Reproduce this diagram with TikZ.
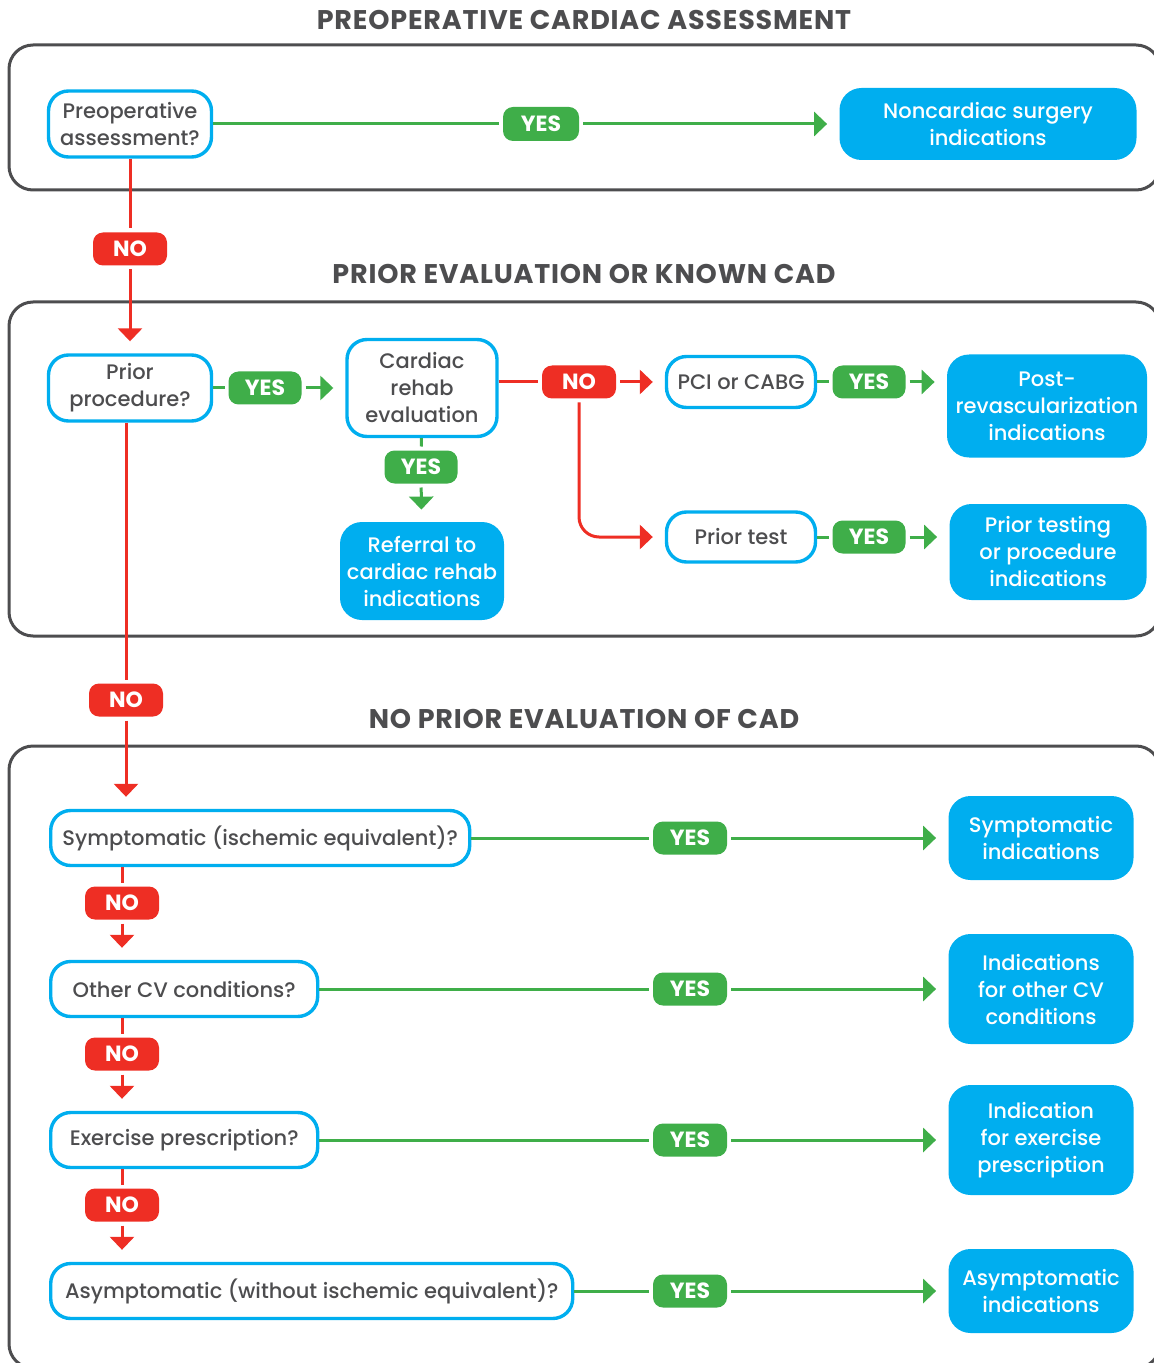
\documentclass[tikz,border=0pt]{standalone}
\usepackage{fontspec}
\setmainfont{Poppins}
\newfontfamily\medfont{Poppins Medium}
\newfontfamily\headfont[LetterSpace=3]{Poppins Bold}
\usetikzlibrary{arrows.meta}
\definecolor{cadblue}{HTML}{00AEEF}
\definecolor{cadgreen}{HTML}{3FAE49}
\definecolor{cadred}{HTML}{EE2E24}
\definecolor{cadgray}{HTML}{4D4D4F}
\tikzset{
  frame/.style={draw=cadgray,line width=1.5pt,rounded corners=12pt},
  head/.style={text=cadgray,font=\fontsize{13.5}{16}\headfont},
  sz/.style 2 args={minimum width=#1*0.5pt,minimum height=#2*0.5pt},
  qbox/.style={draw=cadblue,line width=1.7pt,rounded corners=10pt,fill=white,text=cadgray,
    align=center,inner sep=2pt,font=\fontsize{10.5}{13.5}\medfont},
  abox/.style={fill=cadblue,rounded corners=11pt,text=white,align=center,inner sep=2pt,
    font=\fontsize{10.5}{13.5}\medfont},
  lab/.style={rounded corners=5pt,text=white,inner sep=1pt,outer sep=2pt,
    font=\fontsize{11}{13}\selectfont\bfseries},
  yeslab/.style={lab,fill=cadgreen,sz={76}{34}},
  nolab/.style={lab,fill=cadred,sz={74}{33}},
  gline/.style={draw=cadgreen,line width=1.5pt},
  rline/.style={draw=cadred,line width=1.5pt},
  arr/.style={->,shorten >=6pt}
}
\begin{document}
\begin{tikzpicture}[x=0.5pt,y=-0.5pt,>={Triangle[width=12pt,length=6.5pt]}]
	\useasboundingbox (0,0) rectangle (1154,1363);
	% section frames and headings
	\draw[frame] (9,45) rectangle (1160,190);
	\draw[frame] (9,302) rectangle (1160,636);
	\draw[frame] (9,746) rectangle (1160,1368);
	\node[head] (t1) at (584,20) {PREOPERATIVE CARDIAC ASSESSMENT};
	\node[head] (t2) at (584,274) {PRIOR EVALUATION OR KNOWN CAD};
	\node[head] (t3) at (584,719) {NO PRIOR EVALUATION OF CAD};

	% preoperative
	\node[qbox,sz={163}{66}] (preop) at (130,124) {Preoperative\\assessment?};
	\node[yeslab] (yes1) at (541,124) {YES};
	\node[abox,sz={297}{72}] (noncard) at (988,124) {Noncardiac surgery\\indications};
	\node[nolab] (no1) at (130,249) {NO};
	\draw[gline] (preop) -- (yes1);
	\draw[gline,arr] (yes1) -- (noncard);
	\draw[rline] (preop) -- (no1);

	% prior evaluation
	\node[qbox,sz={163}{66}] (prior) at (130,388) {Prior\\procedure?};
	\node[yeslab,sz={73}{33}] (yes2) at (265,388) {YES};
	\node[qbox,sz={150}{97}] (crehab) at (422,388) {Cardiac\\rehab\\evaluation};
	\node[nolab] (no3) at (579,382) {NO};
	\node[qbox,sz={149}{51}] (pci) at (741,382) {PCI or CABG};
	\node[yeslab,sz={73}{33}] (yes3) at (869,382) {YES};
	\node[abox,sz={200}{103}] (postrev) at (1047,406) {Post-\\revascularization\\indications};
	\node[yeslab,sz={73}{33}] (yes4) at (421,467) {YES};
	\node[abox,sz={164}{98}] (referral) at (422,571) {Referral to\\cardiac rehab\\indications};
	\node[qbox,sz={149}{50}] (ptest) at (741,537) {Prior test};
	\node[yeslab,sz={73}{33}] (yes5) at (869,537) {YES};
	\node[abox,sz={197}{96}] (ptesting) at (1048,552) {Prior testing\\or procedure\\indications};
	\node[nolab] (no2) at (126,700) {NO};
	\draw[rline,arr] (no1) -- (prior);
	\draw[gline] (prior) -- (yes2);
	\draw[gline,arr] (yes2) -- (crehab);
	\draw[rline] (no3 -| crehab.east) -- (no3);
	\draw[rline,arr] (no3) -- (pci);
	\draw[gline] (pci) -- (yes3);
	\draw[gline,arr] (yes3) -- (yes3 -| postrev.west);
	\draw[gline] (crehab) -- (yes4);
	\draw[gline,arr] (yes4) -- (referral);
	\draw[rline,arr,rounded corners=10pt] (no3) |- (ptest);
	\draw[gline] (ptest) -- (yes5);
	\draw[gline,arr] (yes5) -- (yes5 -| ptesting.west);
	\draw[rline] (no2 |- prior.south) -- (no2);

	% no prior evaluation
	\node[qbox,sz={419}{55},anchor=west] (symp) at (49,838) {Symptomatic (ischemic equivalent)?};
	\node[qbox,sz={267}{55},anchor=west] (othercv) at (49,989) {Other CV conditions?};
	\node[qbox,sz={267}{55},anchor=west] (exer) at (49,1140) {Exercise prescription?};
	\node[qbox,sz={522}{55},anchor=west] (asym) at (49,1291) {Asymptomatic (without ischemic equivalent)?};
	\node[nolab] (no4) at (122,903) {NO};
	\node[nolab] (no5) at (122,1054) {NO};
	\node[nolab] (no6) at (122,1205) {NO};
	\node[yeslab,sz={74}{33}] (yes6) at (690,838) {YES};
	\node[yeslab,sz={74}{33}] (yes7) at (690,989) {YES};
	\node[yeslab,sz={74}{33}] (yes8) at (690,1140) {YES};
	\node[yeslab,sz={74}{33}] (yes9) at (690,1291) {YES};
	\node[abox,sz={185}{84}] (sympind) at (1041,838) {Symptomatic\\indications};
	\node[abox,sz={185}{110}] (otherind) at (1041,989) {Indications\\for other CV\\conditions};
	\node[abox,sz={185}{110}] (exerind) at (1041,1140) {Indication\\for exercise\\prescription};
	\node[abox,sz={185}{84}] (asymind) at (1041,1291) {Asymptomatic\\indications};
	\draw[rline,arr] (no2) -- (no2 |- symp.north);
	\draw[rline] (no4 |- symp.south) -- (no4);
	\draw[rline,arr] (no4) -- (no4 |- othercv.north);
	\draw[rline] (no5 |- othercv.south) -- (no5);
	\draw[rline,arr] (no5) -- (no5 |- exer.north);
	\draw[rline] (no6 |- exer.south) -- (no6);
	\draw[rline,arr] (no6) -- (no6 |- asym.north);
	\draw[gline] (symp) -- (yes6);
	\draw[gline,arr] (yes6) -- (sympind);
	\draw[gline] (othercv) -- (yes7);
	\draw[gline,arr] (yes7) -- (otherind);
	\draw[gline] (exer) -- (yes8);
	\draw[gline,arr] (yes8) -- (exerind);
	\draw[gline] (asym) -- (yes9);
	\draw[gline,arr] (yes9) -- (asymind);
\end{tikzpicture}
\end{document}
